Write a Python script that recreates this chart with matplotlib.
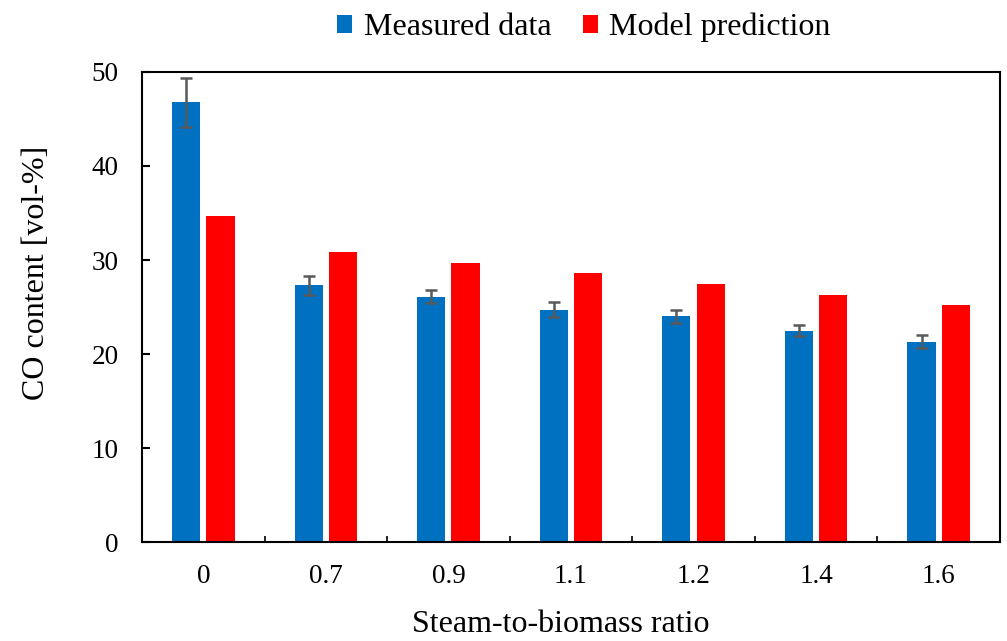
import matplotlib

matplotlib.use("Agg")
import matplotlib.pyplot as plt
import numpy as np

ratios = ["0", "0.7", "0.9", "1.1", "1.2", "1.4", "1.6"]
measured = [46.8, 27.3, 26.1, 24.7, 24.0, 22.5, 21.3]
measured_err = [2.6, 1.0, 0.7, 0.8, 0.65, 0.6, 0.7]
predicted = [34.7, 30.9, 29.7, 28.6, 27.4, 26.3, 25.2]

plt.rcParams["font.family"] = ["Liberation Serif", "DejaVu Serif"]

fig = plt.figure(figsize=(10.07, 6.41), dpi=100)
ax = fig.add_axes([0.141, 0.1544, 0.852, 0.7333])

x = np.arange(len(ratios))
w = 0.23
ax.bar(x - 0.14, measured, w, color="#0070C0", label="Measured data",
       yerr=measured_err, error_kw=dict(ecolor="#595959", elinewidth=1.8, capsize=4.3, capthick=1.8))
ax.bar(x + 0.14, predicted, w, color="#FF0000", label="Model prediction")

ax.set_xlim(-0.5, len(ratios) - 0.5)
ax.set_ylim(0, 50)
ax.set_yticks(range(0, 51, 10))
ax.set_xticks(x)
ax.set_xticklabels(ratios)
ax.set_xticks(np.arange(0.5, len(ratios) - 0.5), minor=True)
ax.tick_params(axis="y", direction="in", length=6, width=1.5, labelsize=19.5, pad=17)
ax.tick_params(axis="x", which="major", length=0, labelsize=19.5, pad=16)
ax.tick_params(axis="x", which="minor", direction="in", length=4, width=1.2)
for s in ax.spines.values():
    s.set_linewidth(1.5)
ax.set_xlabel("Steam-to-biomass ratio", fontsize=23, labelpad=15)
ax.set_ylabel("CO content [vol-%]", fontsize=23, labelpad=29)
ax.xaxis.label.set_x(0.488)
ax.yaxis.label.set_y(0.572)

fig.legend(loc="upper center", bbox_to_anchor=(0.58, 1.025), ncol=2, frameon=False,
           fontsize=23, handlelength=0.47, handleheight=0.47, handletextpad=0.35, columnspacing=1.0)

fig.savefig("out.png", dpi=100)
